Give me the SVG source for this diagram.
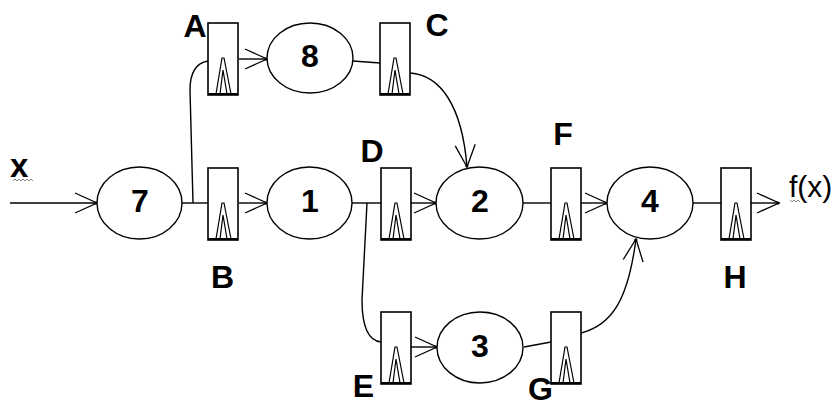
<svg xmlns="http://www.w3.org/2000/svg" xmlns:xlink="http://www.w3.org/1999/xlink" width="833" height="408" viewBox="0 0 833 408">
<style>
.st{fill:none;stroke:#000;stroke-width:1.4}
.el{fill:#fff;stroke:#000;stroke-width:1.4}
.num{font-family:"Liberation Sans",Arial,sans-serif;font-weight:bold;font-size:32px;text-anchor:middle;fill:#000}
.lab{font-family:"Liberation Sans",Arial,sans-serif;font-weight:bold;font-size:32px;text-anchor:middle;fill:#000}
.io{font-family:"Liberation Sans",Arial,sans-serif;font-size:30px;fill:#000}
.xin{font-family:"Liberation Sans",Arial,sans-serif;font-size:33px;font-weight:bold;fill:#000}
.sq{fill:none;stroke:#888;stroke-width:1}
</style>
<defs>
<marker id="arr" markerUnits="userSpaceOnUse" markerWidth="30" markerHeight="30" viewBox="0 0 30 30" refX="25" refY="15" orient="auto" overflow="visible">
<path d="M3,5 L25,15 L3,25" fill="none" stroke="#000" stroke-width="1.3"/>
<circle cx="24" cy="15" r="1.6" fill="#000"/>
</marker>
<g id="reg">
<rect x="0" y="0" width="30" height="72" fill="#fff" stroke="#000" stroke-width="1.6"/>
<path d="M8,71 L14,35 L16,35 L23,71 M12,71 L15,47 L19,71" fill="none" stroke="#000" stroke-width="1.2"/>
<line x1="0" y1="71" x2="30" y2="71" stroke="#000" stroke-width="2"/>
</g>
</defs>
<rect width="833" height="408" fill="#fff"/>
<g id="connectors">
<path class="st" d="M10,203 L97,203" marker-end="url(#arr)"/>
<path class="st" d="M182,203 L208,203"/>
<path class="st" d="M193,203 L190,90 Q190,64 208,61"/>
<path class="st" d="M239,203 L267,203" marker-end="url(#arr)"/>
<path class="st" d="M239,59 L267,59" marker-end="url(#arr)"/>
<path class="st" d="M353,61 L380,63"/>
<path class="st" d="M410,73 C440,75 462,105 467,167" marker-end="url(#arr)"/>
<path class="st" d="M352,203 L381,203"/>
<path class="st" d="M367,203 L362,300 Q362,340 381,342"/>
<path class="st" d="M411,203 L436,203" marker-end="url(#arr)"/>
<path class="st" d="M411,347 L437,347" marker-end="url(#arr)"/>
<path class="st" d="M524,347 L551,342"/>
<path class="st" d="M523,203 L551,203"/>
<path class="st" d="M581,203 L607,203" marker-end="url(#arr)"/>
<path class="st" d="M581,333 C612,325 628,300 636,239" marker-end="url(#arr)"/>
<path class="st" d="M693,203 L721,203"/>
<path class="st" d="M751,203 L779,203" marker-end="url(#arr)"/>
</g>
<g id="n7"><ellipse class="el" cx="139.5" cy="203" rx="42.5" ry="36"/><text class="num" x="140" y="212">7</text></g>
<g id="n8"><ellipse class="el" cx="310" cy="58" rx="43" ry="35"/><text class="num" x="310" y="67">8</text></g>
<g id="n1"><ellipse class="el" cx="309.5" cy="203" rx="42.5" ry="36"/><text class="num" x="310" y="212">1</text></g>
<g id="n2"><ellipse class="el" cx="479.5" cy="203" rx="43.5" ry="36"/><text class="num" x="480" y="212">2</text></g>
<g id="n4"><ellipse class="el" cx="650" cy="203" rx="43" ry="36"/><text class="num" x="650" y="212">4</text></g>
<g id="n3"><ellipse class="el" cx="480" cy="347.5" rx="43" ry="35.5"/><text class="num" x="480" y="357">3</text></g>
<g id="A"><use xlink:href="#reg" x="208" y="23"/><text class="lab" x="195" y="37">A</text></g>
<g id="C"><use xlink:href="#reg" x="380" y="23"/><text class="lab" x="437" y="36">C</text></g>
<g id="B"><use xlink:href="#reg" x="208" y="168"/><text class="lab" x="222.5" y="288">B</text></g>
<g id="D"><use xlink:href="#reg" x="381" y="168"/><text class="lab" x="372" y="162">D</text></g>
<g id="F"><use xlink:href="#reg" x="551" y="168"/><text class="lab" x="563" y="145">F</text></g>
<g id="H"><use xlink:href="#reg" x="721" y="168"/><text class="lab" x="735" y="288">H</text></g>
<g id="E"><use xlink:href="#reg" x="381" y="312"/><text class="lab" x="363.5" y="397">E</text></g>
<g id="G"><use xlink:href="#reg" x="551" y="312"/><text class="lab" x="540.5" y="400">G</text></g>
<g id="input"><text class="xin" x="10" y="177">x</text><path class="sq" d="M13,181 l2,-2 l2,2 l2,-2 l2,2 l2,-2 l2,2 l2,-2 l2,2 l2,-2 l2,2"/></g>
<g id="output"><text class="io" x="789" y="197">f(x)</text><path class="sq" d="M790,200 l2,2 l2,-2 l2,2 l2,-2 l2,2"/></g>
</svg>
